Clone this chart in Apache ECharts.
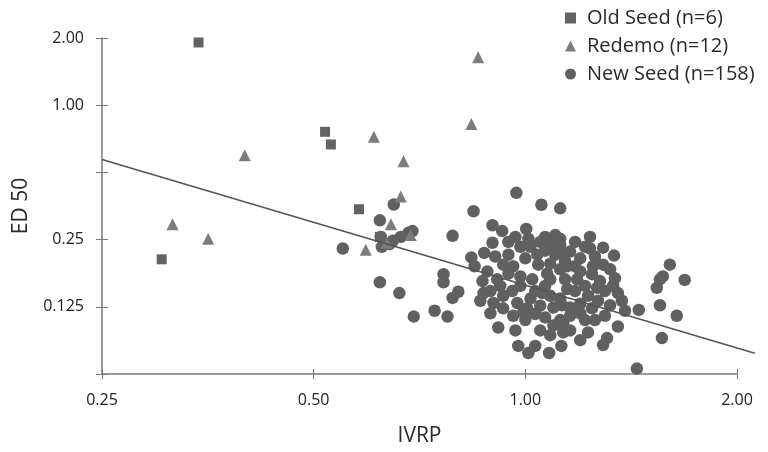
<!DOCTYPE html>
<html>
<head>
<meta charset="utf-8">
<style>
  html, body { margin: 0; padding: 0; background: #fff; }
  #chart { width: 768px; height: 452px; }
</style>
<script src="https://cdn.jsdelivr.net/npm/echarts@6/dist/echarts.min.js"></script>
</head>
<body>
<div id="chart"></div>
<script>
// series names (legend)
const seriesNames = ["Old Seed (n=6)", "Redemo (n=12)", "New Seed (n=158)"];

// axis ticks and their labels
const xTicks = [0.25, 0.5, 1, 2];
const xTickLabels = ["0.25", "0.50", "1.00", "2.00"];
const yTicks = [0.0625, 0.125, 0.25, 0.5, 1, 2];
const yTickLabels = ["", "0.125", "0.25", "", "1.00", "2.00"];

// [IVRP, ED 50]
const oldSeed = [
    [0.343, 1.91], [0.519, 0.76], [0.529, 0.667], [0.304, 0.204], [0.58, 0.342], [0.621, 0.257],
];

const redemo = [
    [0.399, 0.596], [0.609, 0.722], [0.671, 0.561], [0.838, 0.824], [0.857, 1.64], [0.665, 0.39],
    [0.315, 0.293], [0.354, 0.252], [0.644, 0.293], [0.593, 0.225], [0.635, 0.242], [0.687, 0.262],
];

const newSeed = [
    [0.65, 0.359], [0.621, 0.305], [0.623, 0.257], [0.625, 0.232], [0.641, 0.239], [0.648, 0.247],
    [0.665, 0.257], [0.682, 0.268], [0.691, 0.273], [0.55, 0.228], [0.788, 0.26], [0.621, 0.161],
    [0.662, 0.144], [0.765, 0.175], [0.765, 0.161], [0.788, 0.137], [0.803, 0.146], [0.694, 0.113],
    [0.743, 0.12], [0.775, 0.113], [0.971, 0.405], [1.054, 0.358], [1.121, 0.345], [0.844, 0.335],
    [0.898, 0.29], [0.927, 0.273], [1.003, 0.279], [0.968, 0.257], [1.01, 0.252], [0.946, 0.244],
    [0.898, 0.242], [0.874, 0.218], [0.838, 0.208], [0.847, 0.19], [1.067, 0.257], [1.103, 0.262],
    [1.121, 0.252], [1.085, 0.237], [1.121, 0.237], [0.946, 0.214], [0.93, 0.193], [0.961, 0.19],
    [1.04, 0.214], [1.043, 0.193], [1.085, 0.195], [1.132, 0.216], [1.236, 0.257], [1.29, 0.23],
    [1.337, 0.212], [1.236, 0.228], [1.158, 0.221], [1.197, 0.206], [1.29, 0.193], [1.32, 0.184],
    [1.605, 0.193], [1.147, 0.19], [1.197, 0.18], [1.554, 0.166], [1.538, 0.152], [1.569, 0.171],
    [1.685, 0.165], [1.554, 0.127], [1.642, 0.114], [1.45, 0.121], [1.354, 0.102], [1.564, 0.0905],
    [1.441, 0.0661], [1.307, 0.0905], [1.29, 0.0843], [1.228, 0.096], [1.197, 0.0886], [1.132, 0.096],
    [1.333, 0.155], [1.354, 0.144], [1.372, 0.133], [1.244, 0.175], [1.228, 0.14], [1.244, 0.123],
    [1.158, 0.124], [1.128, 0.127], [1.185, 0.166], [1.147, 0.15], [1.132, 0.106], [1.197, 0.129],
    [1.248, 0.19], [0.869, 0.163], [0.872, 0.144], [0.901, 0.13], [0.915, 0.101], [0.93, 0.123],
    [0.961, 0.114], [0.993, 0.118], [0.977, 0.0835], [1.01, 0.0776], [1.033, 0.0835], [1.081, 0.0776],
    [1.125, 0.0835], [1.085, 0.0933], [1.096, 0.103], [1.121, 0.109], [1.067, 0.112], [1.033, 0.116],
    [0.912, 0.166], [0.946, 0.176], [0.958, 0.147], [0.984, 0.155], [1.023, 0.166], [1.017, 0.136],
    [1.057, 0.144], [1.085, 0.166], [1.121, 0.136], [1.139, 0.166], [1.096, 0.124], [0.974, 0.13],
    [0.93, 0.14], [1.006, 0.123], [1.074, 0.176], [1.121, 0.184], [0.984, 0.232], [1.0, 0.206],
    [1.067, 0.223], [1.103, 0.214], [1.177, 0.244], [1.216, 0.232], [1.256, 0.21], [1.277, 0.163],
    [1.298, 0.147], [1.269, 0.133], [1.177, 0.147], [1.158, 0.114], [1.216, 0.109], [1.256, 0.109],
    [1.05, 0.1265], [1.067, 0.155], [1.033, 0.147], [0.984, 0.171], [0.921, 0.155], [0.892, 0.147],
    [0.883, 0.18], [0.906, 0.21], [1.017, 0.232], [1.05, 0.244], [1.139, 0.2], [1.177, 0.19],
    [1.216, 0.155], [1.32, 0.127], [1.298, 0.114], [1.085, 0.14], [1.0, 0.109], [0.968, 0.098],
    [1.05, 0.098], [1.158, 0.098], [1.197, 0.117], [0.892, 0.117], [0.863, 0.133], [1.265, 0.152],
    [1.341, 0.168], [1.386, 0.12],
];

// fitted regression line end points (runs a little past the x axis end)
const fitLine = [[0.25, 0.584], [2.12, 0.082]];

const FONT = "Open Sans";
const AXIS_COLOR = "#7a7a7a";
const PLOT_LEFT = 102;
const PLOT_RIGHT = 31;

function tickLabel(ticks, labels) {
    return (v) => {
        let best = 0;
        ticks.forEach((t, i) => {
            if (Math.abs(Math.log2(t) - Math.log2(v)) < Math.abs(Math.log2(ticks[best]) - Math.log2(v))) best = i;
        });
        return Math.abs(Math.log2(ticks[best]) - Math.log2(v)) < 0.01 ? labels[best] : "";
    };
}

const baseX = {
    type: "log",
    logBase: 2,
    min: xTicks[0],
    max: xTicks[xTicks.length - 1],
    splitLine: { show: false },
};
const baseY = {
    type: "log",
    logBase: 2,
    min: yTicks[0],
    max: yTicks[yTicks.length - 1],
    splitLine: { show: false },
};

// second grid for the fit line: same scale, but wide enough to hold the line's far end
const plotWidth = 768 - PLOT_LEFT - PLOT_RIGHT;
const pxPerOctave = plotWidth / Math.log2(xTicks[xTicks.length - 1] / xTicks[0]);
const fitMaxX = fitLine[1][0];
const fitRight = 768 - PLOT_LEFT - pxPerOctave * Math.log2(fitMaxX / xTicks[0]);

const hidden = { show: false };

const chart = echarts.init(document.getElementById("chart"));

chart.setOption({
    animation: false,
    backgroundColor: "#ffffff",
    textStyle: { fontFamily: FONT },
    grid: [
        { left: PLOT_LEFT, right: PLOT_RIGHT, top: 38, bottom: 72 },
        { left: PLOT_LEFT, right: fitRight, top: 38, bottom: 72 },
    ],
    legend: {
        data: seriesNames,
        orient: "vertical",
        left: 560,
        top: 3,
        itemWidth: 11,
        itemHeight: 11,
        itemGap: 8,
        textStyle: { fontFamily: FONT, fontSize: 20, color: "#2a2a2a", padding: [0, 0, 0, 6] },
    },
    xAxis: [
        {
            ...baseX,
            name: "IVRP",
            nameLocation: "middle",
            nameGap: 52,
            nameTextStyle: { fontFamily: FONT, fontSize: 21, color: "#2a2a2a" },
            axisLine: { lineStyle: { color: AXIS_COLOR, width: 1.5 } },
            axisTick: { length: 5, lineStyle: { color: AXIS_COLOR } },
            axisLabel: {
                margin: 18,
                fontFamily: FONT,
                fontSize: 16,
                color: "#222",
                formatter: tickLabel(xTicks, xTickLabels),
            },
        },
        {
            ...baseX,
            position: "bottom",
            axisLine: { show: false },
            axisTick: { inside: true, length: 5, lineStyle: { color: AXIS_COLOR } },
            axisLabel: { show: false },
        },
        {
            type: "log",
            logBase: 2,
            gridIndex: 1,
            min: xTicks[0],
            max: fitMaxX,
            axisLine: hidden, axisTick: hidden, axisLabel: hidden, splitLine: hidden,
        },
    ],
    yAxis: [
        {
            ...baseY,
            name: "ED 50",
            nameLocation: "middle",
            nameGap: 70,
            nameTextStyle: { fontFamily: FONT, fontSize: 21, color: "#2a2a2a" },
            axisLine: { lineStyle: { color: AXIS_COLOR, width: 1.5 } },
            axisTick: { length: 6, lineStyle: { color: AXIS_COLOR } },
            axisLabel: {
                margin: 18,
                fontFamily: FONT,
                fontSize: 16,
                color: "#222",
                formatter: tickLabel(yTicks, yTickLabels),
            },
        },
        {
            ...baseY,
            position: "left",
            axisLine: { show: false },
            axisTick: { inside: true, length: 6, lineStyle: { color: AXIS_COLOR } },
            axisLabel: { show: false },
        },
        {
            ...baseY,
            gridIndex: 1,
            axisLine: hidden, axisTick: hidden, axisLabel: hidden, splitLine: hidden,
        },
    ],
    series: [
        {
            name: seriesNames[2],
            type: "scatter",
            symbol: "circle",
            symbolSize: 12.5,
            itemStyle: { color: "#606060", opacity: 1 },
            data: newSeed,
        },
        {
            name: seriesNames[1],
            type: "scatter",
            symbol: "triangle",
            symbolSize: 12,
            itemStyle: { color: "#7c7c7c", opacity: 1 },
            data: redemo,
        },
        {
            name: seriesNames[0],
            type: "scatter",
            symbol: "rect",
            symbolSize: 10,
            itemStyle: { color: "#636363", opacity: 1 },
            data: oldSeed,
        },
        {
            name: "fit",
            type: "line",
            xAxisIndex: 2,
            yAxisIndex: 2,
            symbol: "none",
            silent: true,
            lineStyle: { color: "#555", width: 1.5 },
            data: fitLine,
            z: 3,
        },
    ],
});
</script>
</body>
</html>
